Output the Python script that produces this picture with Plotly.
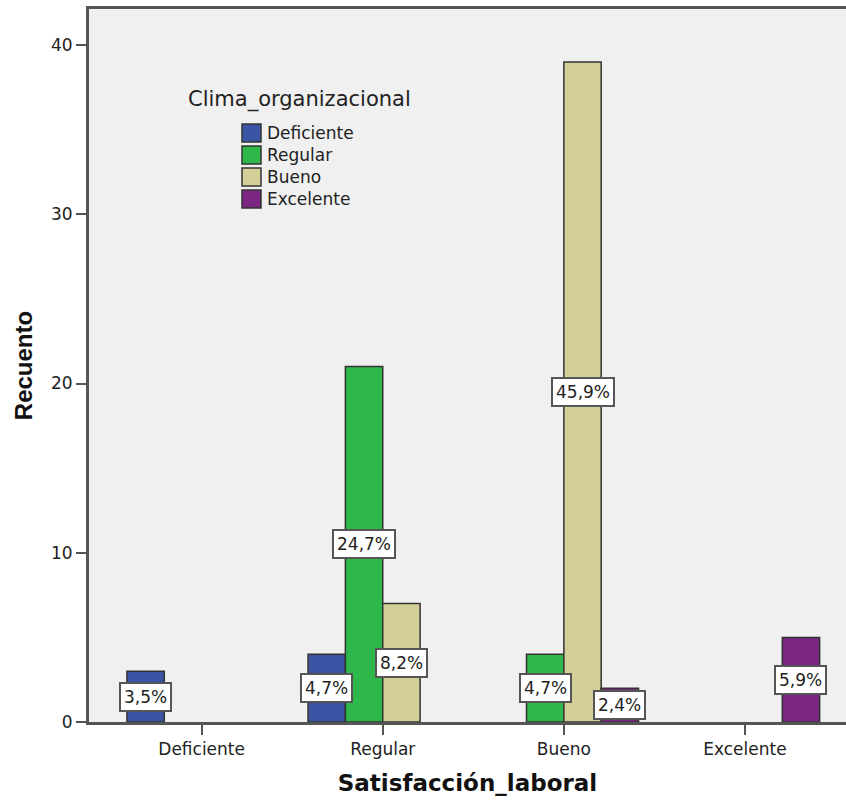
import plotly.graph_objects as go

# Satisfacción laboral (x categories) vs. Clima organizacional (series)
categories = ["Deficiente", "Regular", "Bueno", "Excelente"]
series_names = ["Deficiente", "Regular", "Bueno", "Excelente"]

# counts per series, one value per x category (None = no bar)
clima_deficiente = [3, 4, None, None]
clima_regular = [None, 21, 4, None]
clima_bueno = [None, 7, 39, None]
clima_excelente = [None, None, 2, 5]

# percentage labels shown on each bar
pct_deficiente = ["3,5%", "4,7%", None, None]
pct_regular = [None, "24,7%", "4,7%", None]
pct_bueno = [None, "8,2%", "45,9%", None]
pct_excelente = [None, None, "2,4%", "5,9%"]

y_ticks = [0, 10, 20, 30, 40]

series_values = [clima_deficiente, clima_regular, clima_bueno, clima_excelente]
series_labels = [pct_deficiente, pct_regular, pct_bueno, pct_excelente]
colors = ["#3A55A4", "#2EB84B", "#D4CF98", "#7B2680"]

W, H = 846, 803
ML, MR, MT, MB = 89, 0, 9, 81
pw, ph = W - ML - MR, H - MT - MB


def px_x(x):
    return (x - ML) / pw


def px_y(y):
    return (H - MB - y) / ph


BARGAP = 0.175
n_series = len(series_names)
bar_w = (1 - BARGAP) / n_series
xpos = list(range(len(categories)))

fig = go.Figure()
annotations = []
shapes = []
for i, (name, vals, labs, col) in enumerate(zip(series_names, series_values, series_labels, colors)):
    fig.add_trace(go.Bar(
        x=xpos, y=vals, name=name, showlegend=False,
        marker=dict(color=col, line=dict(color="#333333", width=1.5)),
        hoverinfo="x+y",
    ))
    offset = (i - (n_series - 1) / 2) * bar_w
    for xi, v, lab in zip(xpos, vals, labs):
        if v is None or lab is None:
            continue
        annotations.append(dict(
            x=xi + offset, y=v / 2, xref="x", yref="y", text=lab,
            showarrow=False, bgcolor="white", bordercolor="#555555",
            borderwidth=2, borderpad=3,
            font=dict(family="DejaVu Sans", size=17, color="#222222"),
        ))

# legend block: title, swatches and names
annotations.append(dict(
    x=px_x(186), y=px_y(100), xref="paper", yref="paper", text="Clima_organizacional",
    showarrow=False, xanchor="left", yanchor="middle",
    font=dict(family="DejaVu Sans", size=21, color="#222222"),
))
for i, (name, col) in enumerate(zip(series_names, colors)):
    cy = 133 + 22 * i
    shapes.append(dict(
        type="rect", xref="paper", yref="paper",
        x0=px_x(242), x1=px_x(261), y0=px_y(cy - 9), y1=px_y(cy + 9),
        fillcolor=col, line=dict(color="#333333", width=1.5),
    ))
    annotations.append(dict(
        x=px_x(265), y=px_y(cy), xref="paper", yref="paper", text=name,
        showarrow=False, xanchor="left", yanchor="middle",
        font=dict(family="DejaVu Sans", size=17, color="#222222"),
    ))

fig.update_layout(
    width=W, height=H,
    margin=dict(l=ML, r=MR, t=MT, b=MB),
    barmode="group", bargap=BARGAP, bargroupgap=0,
    plot_bgcolor="#F0F0F0", paper_bgcolor="white",
    font=dict(family="DejaVu Sans", size=17, color="#222222"),
    annotations=annotations, shapes=shapes,
    showlegend=False,
    xaxis=dict(
        range=[-0.622, 3.558], tickvals=xpos, ticktext=categories,
        showline=True, linecolor="#555555", linewidth=2.5, mirror=True,
        ticks="outside", ticklen=10, tickwidth=2, tickcolor="#555555",
        showgrid=False, zeroline=False,
        tickfont=dict(family="DejaVu Sans", size=17, color="#222222"),
        title=dict(text="Satisfacción_laboral", standoff=17,
                   font=dict(family="DejaVu Sans", size=23, color="#111111", weight="bold")),
    ),
    yaxis=dict(
        range=[0, 42.13], tickvals=y_ticks,
        showline=True, linecolor="#555555", linewidth=3,
        ticks="outside", ticklen=10, tickwidth=2, tickcolor="#555555",
        showgrid=False, zeroline=False,
        tickfont=dict(family="DejaVu Sans", size=17, color="#222222"),
        title=dict(text="Recuento", standoff=12,
                   font=dict(family="Liberation Sans", size=24, color="#111111", weight="bold")),
    ),
)

fig.write_html("out.html")
